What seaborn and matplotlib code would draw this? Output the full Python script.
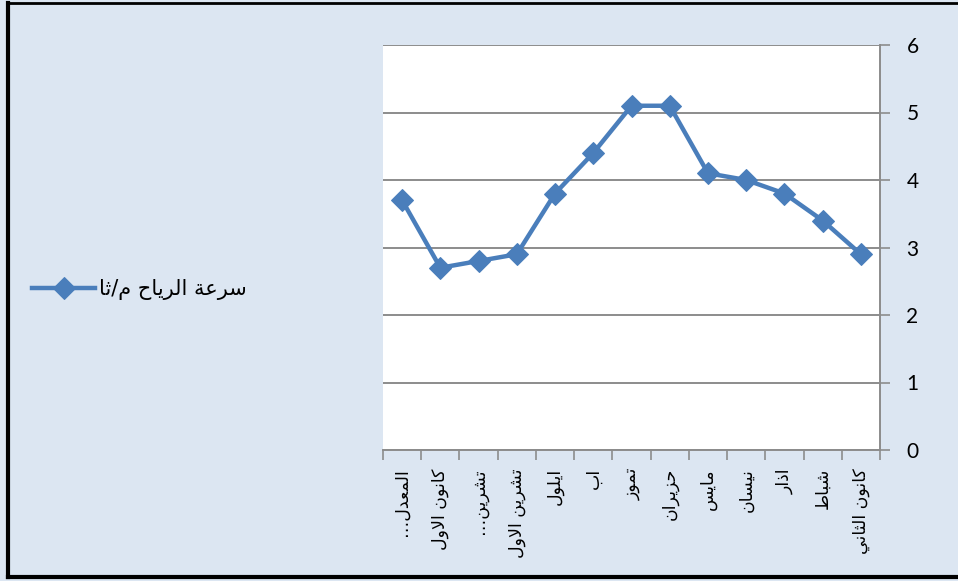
#!/usr/bin/env python3
import matplotlib
matplotlib.use("Agg")
import matplotlib.pyplot as plt
import seaborn as sns
import pandas as pd
from matplotlib.lines import Line2D

# --------------------------------------------
# DATA (logical order: Jan .. Dec, then the yearly mean)
# --------------------------------------------
MONTHS = [
    "كانون الثاني", "شباط", "اذار", "نيسان", "مايس", "حزيران", "تموز",
    "اب", "ايلول", "تشرين الاول", "تشرين…", "كانون الاول", "المعدل…",
]
WIND_SPEED = [2.9, 3.4, 3.8, 4.0, 4.1, 5.1, 5.1, 4.4, 3.8, 2.9, 2.8, 2.7, 3.7]
SERIES_LABEL = "سرعة الرياح م/ثا"
Y_TICKS = [0, 1, 2, 3, 4, 5, 6]

BLUE = "#4a7ebb"
BG = "#dce6f2"
GRID = "#8c8c8c"

# --------------------------------------------
# ARABIC SHAPING (matplotlib has no complex text layout)
# isolated, final, initial, medial
# --------------------------------------------
FORMS = {
    "ا": ("\uFE8D", "\uFE8E", None, None),
    "ب": ("\uFE8F", "\uFE90", "\uFE91", "\uFE92"),
    "ة": ("\uFE93", "\uFE94", None, None),
    "ت": ("\uFE95", "\uFE96", "\uFE97", "\uFE98"),
    "ث": ("\uFE99", "\uFE9A", "\uFE9B", "\uFE9C"),
    "ح": ("\uFEA1", "\uFEA2", "\uFEA3", "\uFEA4"),
    "د": ("\uFEA9", "\uFEAA", None, None),
    "ذ": ("\uFEAB", "\uFEAC", None, None),
    "ر": ("\uFEAD", "\uFEAE", None, None),
    "ز": ("\uFEAF", "\uFEB0", None, None),
    "س": ("\uFEB1", "\uFEB2", "\uFEB3", "\uFEB4"),
    "ش": ("\uFEB5", "\uFEB6", "\uFEB7", "\uFEB8"),
    "ط": ("\uFEC1", "\uFEC2", "\uFEC3", "\uFEC4"),
    "ع": ("\uFEC9", "\uFECA", "\uFECB", "\uFECC"),
    "ك": ("\uFED9", "\uFEDA", "\uFEDB", "\uFEDC"),
    "ل": ("\uFEDD", "\uFEDE", "\uFEDF", "\uFEE0"),
    "م": ("\uFEE1", "\uFEE2", "\uFEE3", "\uFEE4"),
    "ن": ("\uFEE5", "\uFEE6", "\uFEE7", "\uFEE8"),
    "و": ("\uFEED", "\uFEEE", None, None),
    "ي": ("\uFEF1", "\uFEF2", "\uFEF3", "\uFEF4"),
}
LAM_ALEF = "لا"


def is_arabic(u):
    return u in FORMS or u == LAM_ALEF


def joins_next(u):
    if u == LAM_ALEF:
        return False
    f = FORMS.get(u)
    return f is not None and f[2] is not None


def shape(text):
    """Return presentation forms in visual (left-to-right) order."""
    units = []
    i = 0
    while i < len(text):
        if text[i] == "ل" and i + 1 < len(text) and text[i + 1] == "ا":
            units.append(LAM_ALEF)
            i += 2
        else:
            units.append(text[i])
            i += 1
    out = []
    for k, u in enumerate(units):
        prev = units[k - 1] if k > 0 else None
        nxt = units[k + 1] if k + 1 < len(units) else None
        link_prev = prev is not None and joins_next(prev) and is_arabic(u)
        link_next = joins_next(u) and nxt is not None and is_arabic(nxt)
        if u == LAM_ALEF:
            out.append("\uFEFC" if link_prev else "\uFEFB")
            continue
        f = FORMS.get(u)
        if f is None:
            out.append(u)
        elif link_prev and link_next:
            out.append(f[3])
        elif link_prev:
            out.append(f[1])
        elif link_next:
            out.append(f[2])
        else:
            out.append(f[0])
    return "".join(reversed(out))


# --------------------------------------------
# PLOT
# --------------------------------------------
def main():
    df = pd.DataFrame(
        {"pos": range(len(MONTHS)), "speed": WIND_SPEED, "month": MONTHS}
    )

    fig = plt.figure(figsize=(9.58, 5.81), dpi=100, facecolor=BG)
    ax = fig.add_axes([383 / 958, 1 - 450 / 581, 497 / 958, 405 / 581])
    ax.set_facecolor("white")

    sns.lineplot(
        data=df, x="pos", y="speed", ax=ax, color=BLUE, linewidth=3.2,
        marker="D", markersize=11, markeredgecolor=BLUE, label=SERIES_LABEL,
        zorder=3,
    )

    # right-to-left category axis, categories between tick marks
    n = len(MONTHS)
    ax.set_xlim(n - 0.5, -0.5)
    ax.set_xticks(range(n))
    ax.set_xticklabels(
        [shape(m) for m in MONTHS], rotation=90, fontsize=12.5,
        family="DejaVu Sans", va="top", ha="center",
    )
    ax.set_xticks([i - 0.5 for i in range(n + 1)], minor=True)
    ax.tick_params(axis="x", which="major", length=0, pad=13)
    ax.tick_params(axis="x", which="minor", length=7, width=1.2, color=GRID)
    ax.set_xlabel("")

    ax.set_ylim(0, 6)
    ax.set_yticks(Y_TICKS)
    ax.yaxis.tick_right()
    ax.tick_params(axis="y", length=7, width=1.2, color=GRID, pad=12,
                   labelsize=15)
    for lab in ax.get_yticklabels():
        lab.set_family("Lato")
    ax.set_ylabel("")
    ax.grid(axis="y", color=GRID, linewidth=1.4)
    ax.grid(axis="x", visible=False)
    ax.set_axisbelow(True)

    for side in ("top", "left"):
        ax.spines[side].set_visible(False)
    for side in ("right", "bottom"):
        ax.spines[side].set_color(GRID)
        ax.spines[side].set_linewidth(1.4)

    # legend on the left of the plot area
    handles, _ = ax.get_legend_handles_labels()
    ax.get_legend().remove()
    fig.legend(
        handles, [shape(SERIES_LABEL)], loc="center left",
        bbox_to_anchor=(24 / 958, 1 - 290 / 581), frameon=False,
        handlelength=3.0, handletextpad=0.2, borderaxespad=0,
        prop={"family": "DejaVu Sans", "size": 15},
    )

    # outer chart border (right edge is cut off in the original)
    x0, y0, y1 = 8 / 958, 1 - 577 / 581, 1 - 3 / 581
    fig.add_artist(Line2D([x0, x0], [y0, y1], transform=fig.transFigure,
                          color="black", linewidth=3))
    fig.add_artist(Line2D([x0, 1], [y0, y0], transform=fig.transFigure,
                          color="black", linewidth=3))
    fig.add_artist(Line2D([x0, 1], [y1, y1], transform=fig.transFigure,
                          color="black", linewidth=2))

    fig.savefig("out.png", dpi=100, facecolor=BG)
    plt.close(fig)


if __name__ == "__main__":
    main()
